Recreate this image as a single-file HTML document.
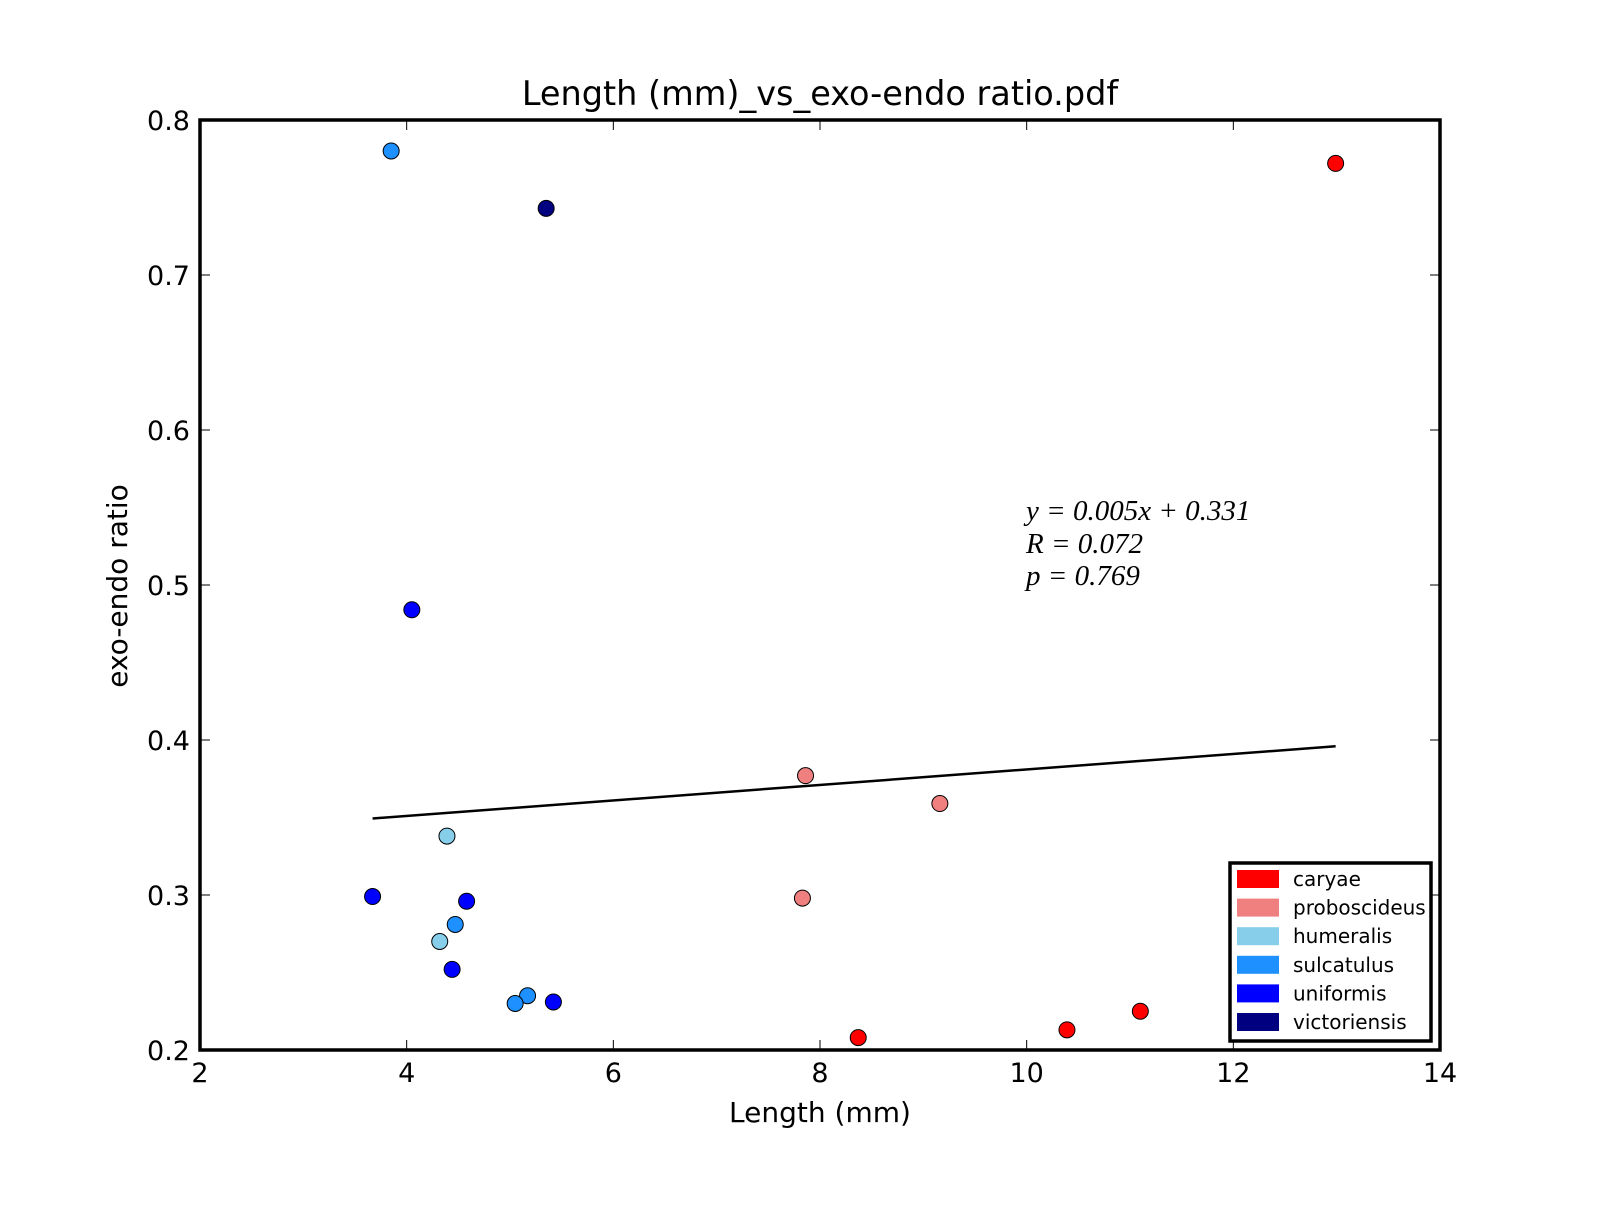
<!DOCTYPE html>
<html><head><meta charset="utf-8"><style>
body{margin:0;background:#fff}
svg text{font-family:"DejaVu Sans","Liberation Sans",sans-serif;fill:#000}
</style></head><body>
<svg width="1600" height="1200" viewBox="0 0 1600 1200" id="chart">
<rect width="1600" height="1200" fill="#fff"/>
<g id="marks"></g>
<rect x="200" y="120" width="1240" height="930" fill="none" stroke="#000" stroke-width="3.5"/>
<g id="ticks"></g>
<text x="820" y="105" font-size="33.5" text-anchor="middle">Length (mm)_vs_exo-endo ratio.pdf</text>
<text x="820" y="1122" font-size="28" text-anchor="middle">Length (mm)</text>
<text transform="translate(127,586) rotate(-90)" font-size="28" text-anchor="middle">exo-endo ratio</text>
<g font-style="italic" font-size="29">
<text x="1026" y="520" style="font-family:'Liberation Serif',serif">y = 0.005x + 0.331</text>
<text x="1026" y="553" style="font-family:'Liberation Serif',serif">R = 0.072</text>
<text x="1026" y="585" style="font-family:'Liberation Serif',serif">p = 0.769</text>
</g>
<g id="legend">
<rect x="1230" y="863" width="201" height="178" fill="#fff" stroke="#000" stroke-width="3.5"/>
</g>
</svg>
<script>
const names=["caryae","proboscideus","humeralis","sulcatulus","uniformis","victoriensis"];
const colors=["#ff0000","#f08080","#87ceeb","#1e90ff","#0000ff","#000080"];
const xs=[3.85,5.35,12.99,4.05,7.86,9.16,4.39,3.67,7.83,4.58,4.47,4.32,4.44,5.17,5.05,5.42,8.37,10.39,11.10];
const ys=[0.780,0.743,0.772,0.484,0.377,0.359,0.338,0.299,0.298,0.296,0.281,0.270,0.252,0.235,0.230,0.231,0.208,0.213,0.225];
const groups=[3,5,0,4,1,1,2,4,1,4,3,2,4,3,3,4,0,0,0];
const xTicks=[2,4,6,8,10,12,14];
const yTicks=[0.2,0.3,0.4,0.5,0.6,0.7,0.8];
const slope=0.005, intercept=0.331;
const NS="http://www.w3.org/2000/svg";
const sx=v=>200+(v-2)*1240/12, sy=v=>1050-(v-0.2)*930/0.6;
function mk(t,a,p){const e=document.createElementNS(NS,t);for(const k in a)e.setAttribute(k,a[k]);p.appendChild(e);return e;}
const marks=document.getElementById('marks');
const xmin=Math.min(...xs), xmax=Math.max(...xs);
const ln=mk('line',{x1:sx(xmin),y1:sy(slope*xmin+intercept),x2:sx(xmax),y2:sy(slope*xmax+intercept),stroke:'#000','stroke-width':2.5},marks);


xs.forEach((x,i)=>{const c=mk('circle',{cx:sx(x),cy:sy(ys[i]),r:8,fill:colors[groups[i]],stroke:'#000','stroke-width':1},marks);

});
const tk=document.getElementById('ticks');
xTicks.forEach(v=>{const x=sx(v);mk('line',{x1:x,y1:1050,x2:x,y2:1040,stroke:'#000'},tk);mk('line',{x1:x,y1:120,x2:x,y2:130,stroke:'#000'},tk);
const t=mk('text',{x:x,y:1082,'font-size':27,'text-anchor':'middle'},tk);t.textContent=v;

});
yTicks.forEach(v=>{const y=sy(v);mk('line',{x1:200,y1:y,x2:210,y2:y,stroke:'#000'},tk);mk('line',{x1:1440,y1:y,x2:1430,y2:y,stroke:'#000'},tk);
const t=mk('text',{x:190,y:y+10,'font-size':27,'text-anchor':'end'},tk);t.textContent=v.toFixed(1);

});
const lg=document.getElementById('legend');
names.forEach((n,i)=>{const y=870+i*28.6;
const r=mk('rect',{x:1237,y:y,width:42,height:18,fill:colors[i]},lg);


const t=mk('text',{x:1293,y:y+16,'font-size':20},lg);t.textContent=n;

});
</script>
</body></html>
